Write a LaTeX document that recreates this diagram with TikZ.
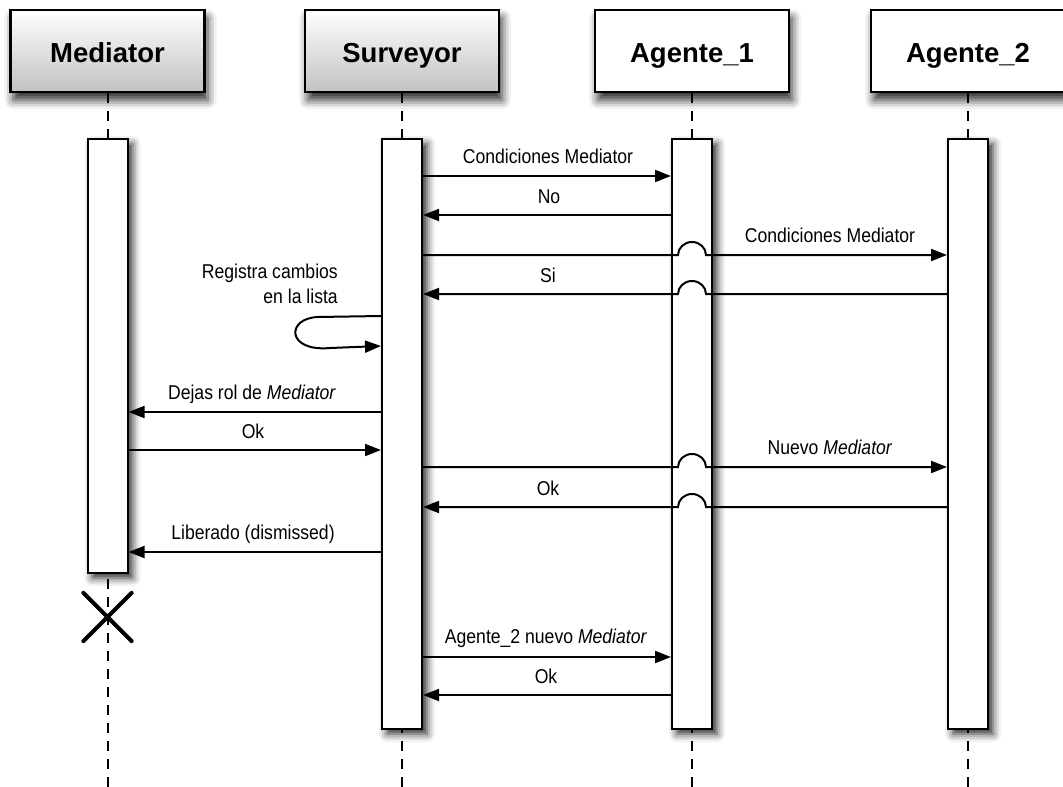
\documentclass[tikz,border=0pt]{standalone}
\usepackage{fontspec}
\setmainfont{Liberation Sans}
\newfontfamily\msgfont[FakeStretch=0.88]{Liberation Sans}
\usetikzlibrary{arrows.meta,shadows.blur,shapes.misc}

\begin{document}
\begin{tikzpicture}[x=1pt,y=-1pt,
  head/.style={draw=black, line width=2.4pt, minimum width=194pt, minimum height=82pt,
    inner sep=0pt, text height=22pt, text depth=0pt, font=\fontsize{27.5}{30}\selectfont\bfseries,
    blur shadow={shadow xshift=3pt, shadow yshift=-8pt, shadow blur radius=9pt, shadow opacity=85}},
  greyhead/.style={head, top color=white, bottom color=black!24},
  whitehead/.style={head, fill=white},
  bar/.style={draw=black, fill=white, line width=2pt, minimum width=40pt, inner sep=0pt, anchor=north,
    blur shadow={shadow xshift=5pt, shadow yshift=-5pt, shadow blur radius=8pt, shadow opacity=85}},
  life/.style={line width=2pt, dash pattern=on 10pt off 8pt},
  msg/.style={line width=2pt, -{Triangle[length=16pt,width=12pt]}},
  lbl/.style={font=\msgfont\fontsize{20}{25}\selectfont, anchor=base, inner sep=0pt},
  killmark/.style={cross out, draw=black, line width=4.2pt, line cap=round, minimum size=44pt, inner sep=0pt}
]
\useasboundingbox (0,0) rectangle (1063,787);

% participant headers
\node[greyhead]  (hm)  at (107.5,51) {Mediator};
\node[greyhead]  (hs)  at (402,51)   {Surveyor};
\node[whitehead] (ha1) at (692,51)   {Agente\_1};
\node[whitehead] (ha2) at (968,51)   {Agente\_2};

% lifeline ends at the bottom edge
\coordinate (em)  at (107.5,787);
\coordinate (es)  at (402,787);
\coordinate (ea1) at (692,787);
\coordinate (ea2) at (968,787);

% lifelines
\draw[life] (hm.south)  -- (em);
\draw[life] (hs.south)  -- (es);
\draw[life] (ha1.south) -- (ea1);
\draw[life] (ha2.south) -- (ea2);

% activation bars
\node[bar, minimum height=434pt] (mb)  at (107.5,138) {};
\node[bar, minimum height=590pt] (sb)  at (402,138) {};
\node[bar, minimum height=590pt] (ab1) at (692,138) {};
\node[bar, minimum height=590pt] (ab2) at (968,138) {};

% destruction of the Mediator
\node[killmark] (kill) at (107.5,617) {};

% messages
\draw[msg] (sb.east |- 0,176) -- (ab1.west |- 0,176);
\node[lbl] (l1) at (548,163) {Condiciones Mediator};

\draw[msg] (ab1.west |- 0,215) -- (sb.east |- 0,215);
\node[lbl] (l2) at (549,203) {No};

\draw[msg] (sb.east |- 0,255) -- (678,255)
  arc[start angle=180, end angle=360, x radius=14, y radius=13] -- (ab2.west |- 0,255);
\node[lbl] (l3) at (830,242) {Condiciones Mediator};

\draw[msg] (ab2.west |- 0,294) -- (706,294)
  arc[start angle=0, end angle=-180, x radius=14, y radius=13] -- (sb.east |- 0,294);
\node[lbl] (l4) at (548,282) {Si};

% self message
\draw[msg] (sb.west |- 0,316) -- (318,317)
  .. controls (286,318) and (286,352) .. (330,348) -- (sb.west |- 0,346);
\node[lbl, anchor=base east, align=right] (l5) at (338,303) {Registra cambios\\en la lista};

\draw[msg] (sb.west |- 0,412) -- (mb.east |- 0,412);
\node[lbl] (l6) at (252,399) {Dejas rol de \textit{Mediator}};

\draw[msg] (mb.east |- 0,450) -- (sb.west |- 0,450);
\node[lbl] (l7) at (253,438) {Ok};

\draw[msg] (sb.east |- 0,467) -- (678,467)
  arc[start angle=180, end angle=360, x radius=14, y radius=13] -- (ab2.west |- 0,467);
\node[lbl] (l8) at (830,454) {Nuevo \textit{Mediator}};

\draw[msg] (ab2.west |- 0,507) -- (706,507)
  arc[start angle=0, end angle=-180, x radius=14, y radius=13] -- (sb.east |- 0,507);
\node[lbl] (l9) at (548,495) {Ok};

\draw[msg] (sb.west |- 0,552) -- (mb.east |- 0,552);
\node[lbl] (l10) at (253,539) {Liberado (dismissed)};

\draw[msg] (sb.east |- 0,657) -- (ab1.west |- 0,657);
\node[lbl] (l11) at (546,643) {Agente\_2 nuevo \textit{Mediator}};

\draw[msg] (ab1.west |- 0,695) -- (sb.east |- 0,695);
\node[lbl] (l12) at (546,683) {Ok};

\end{tikzpicture}
\end{document}
